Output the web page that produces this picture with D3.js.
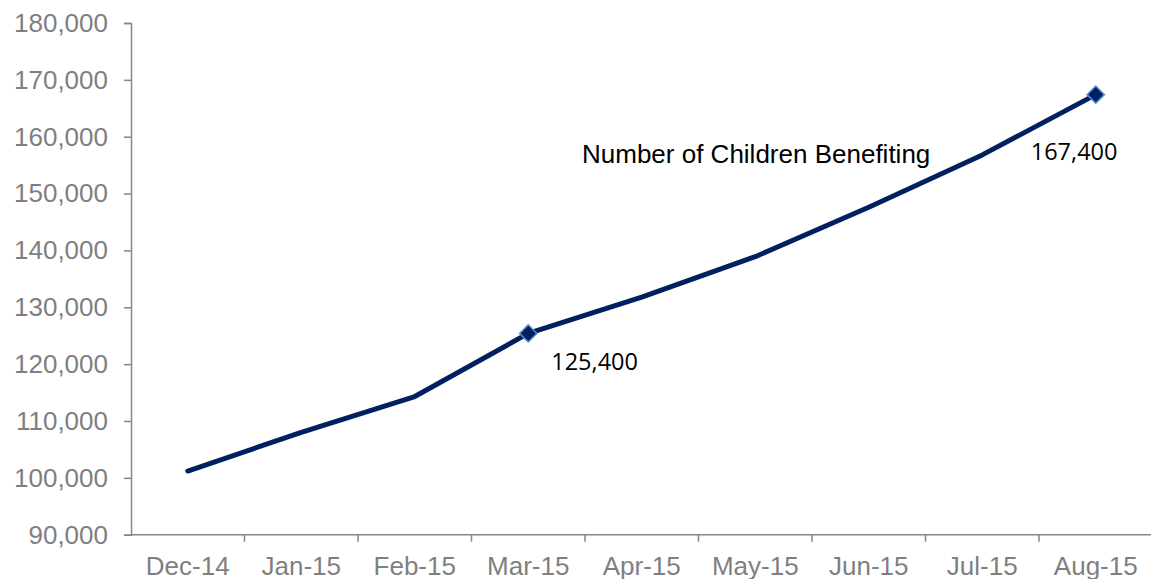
<!DOCTYPE html>
<html>
<head>
<meta charset="utf-8">
<script src="https://cdn.jsdelivr.net/npm/d3@7"></script>
<style>
    body { margin: 0; background: #fff; }
    svg { display: block; }
    .axis path, .axis line { stroke: #868686; stroke-width: 1.5px; }
    .axis text { fill: #7f7f7f; font-family: "Liberation Sans", Arial, sans-serif; font-size: 26px; }
</style>
</head>
<body>
<svg id="chart" width="1151" height="579"></svg>
<script>
"use strict";

var months = ["Dec-14", "Jan-15", "Feb-15", "Mar-15", "Apr-15", "May-15", "Jun-15", "Jul-15", "Aug-15"];
var children = [101200, 108000, 114300, 125400, 131800, 138900, 147600, 156800, 167400];
var labelled = ["Mar-15", "Aug-15"];
var yTicks = [90000, 100000, 110000, 120000, 130000, 140000, 150000, 160000, 170000, 180000];
var seriesName = "Number of Children Benefiting";

var MARGIN = { left: 131, top: 23, right: 0, bottom: 44 };
var WIDTH = 1021.5;
var HEIGHT = 511.7;

var svg = d3.select("#chart");
var g = svg.append("g")
    .attr("transform", "translate(" + MARGIN.left + "," + MARGIN.top + ")");

var x = d3.scaleBand().domain(months).range([0, WIDTH]);
var y = d3.scaleLinear().domain([90000, 180000]).range([HEIGHT, 0]);

var fmt = d3.format(",");

// y axis
g.append("g")
    .attr("class", "axis")
    .call(d3.axisLeft(y).tickValues(yTicks).tickFormat(fmt).tickSizeOuter(0).tickSize(7).tickPadding(16));

// x axis, ticks sit on the band edges
var xAxis = g.append("g")
    .attr("class", "axis")
    .attr("transform", "translate(0," + HEIGHT + ")")
    .call(d3.axisBottom(x).tickSize(0).tickPadding(22));
xAxis.selectAll(".edge")
    .data(months.slice(1).concat(["end"]))
    .enter().append("line")
    .attr("class", "edge")
    .attr("x1", function(d, i) { return x.step() * (i + 1); })
    .attr("x2", function(d, i) { return x.step() * (i + 1); })
    .attr("y1", 0)
    .attr("y2", 7);
xAxis.select(".domain").attr("d", "M0,0H" + WIDTH);

var pts = months.map(function(m, i) {
    return { month: m, value: children[i] };
});
var cx = function(d) { return x(d.month) + x.bandwidth() / 2; };

var line = d3.line()
    .x(cx)
    .y(function(d) { return y(d.value); });

g.append("path")
    .datum(pts)
    .attr("fill", "none")
    .attr("stroke", "#002060")
    .attr("stroke-width", 5)
    .attr("stroke-linejoin", "round")
    .attr("stroke-linecap", "round")
    .attr("d", line);

var marked = pts.filter(function(d) { return labelled.indexOf(d.month) >= 0; });

g.selectAll(".marker")
    .data(marked)
    .enter().append("path")
    .attr("class", "marker")
    .attr("d", d3.symbol().type(d3.symbolDiamond2).size(190))
    .attr("transform", function(d) { return "translate(" + cx(d) + "," + y(d.value) + ")"; })
    .attr("fill", "#002060")
    .attr("stroke", "#5b8ccf")
    .attr("stroke-width", 1.5);

var labelOffsets = { "Mar-15": [23, 37], "Aug-15": [-65, 65] };
g.selectAll(".data-label")
    .data(marked)
    .enter().append("text")
    .attr("class", "data-label")
    .attr("x", function(d) { return cx(d) + labelOffsets[d.month][0]; })
    .attr("y", function(d) { return y(d.value) + labelOffsets[d.month][1]; })
    .attr("font-family", "'Open Sans', sans-serif")
    .attr("font-size", 23.5)
    .attr("fill", "#000")
    .text(function(d) { return fmt(d.value); });

svg.append("text")
    .attr("x", 582)
    .attr("y", 163)
    .attr("font-family", "'Liberation Sans', Arial, sans-serif")
    .attr("font-size", 26)
    .attr("fill", "#000")
    .text(seriesName);
</script>
</body>
</html>
